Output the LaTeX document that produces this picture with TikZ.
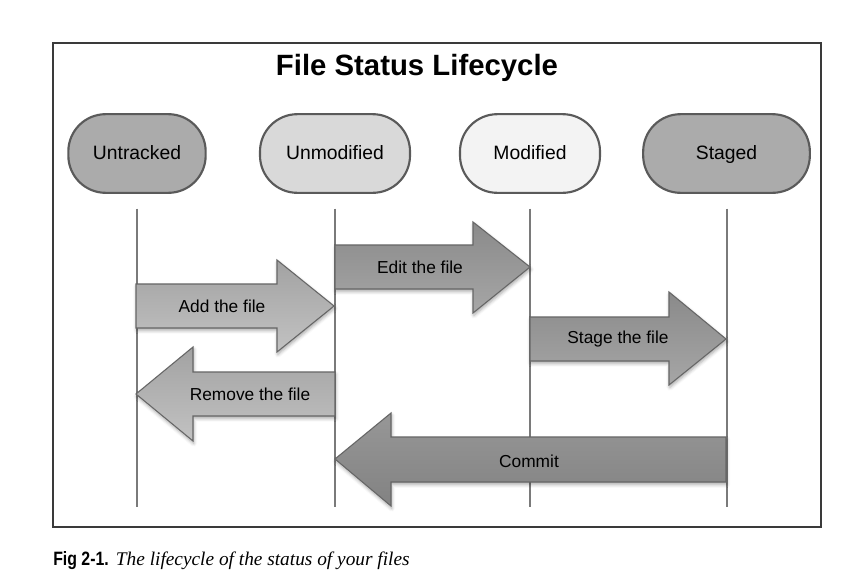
\documentclass[tikz,border=0pt]{standalone}
\usepackage{fontspec}
\setmainfont{Liberation Sans}
\newfontfamily\capserif{Liberation Serif}
\newfontfamily\capsans[FakeStretch=0.82]{Liberation Sans}
\usepackage{tikz}
\usepackage{xcolor}
\usetikzlibrary{shapes, positioning, shadows.blur}

\definecolor{edgegray}{HTML}{5A5A5A}
\definecolor{linegray}{HTML}{7A7A7A}
\definecolor{arrowedge}{HTML}{666666}
\definecolor{framegray}{HTML}{3A3A3A}
\definecolor{darkfill}{HTML}{ABABAB}
\definecolor{midfill}{HTML}{D9D9D9}
\definecolor{lightfill}{HTML}{F3F3F3}
\definecolor{addtop}{HTML}{A2A2A2}
\definecolor{addbot}{HTML}{C2C2C2}
\definecolor{edittop}{HTML}{8A8A8A}
\definecolor{editbot}{HTML}{A6A6A6}
\definecolor{committop}{HTML}{979797}
\definecolor{commitbot}{HTML}{828282}

\begin{document}
\begin{tikzpicture}[x=0.75pt, y=-0.75pt,
    state/.style={rectangle, rounded corners=28pt, draw=edgegray, line width=1.6pt, minimum height=59pt, text height=2.2ex, text depth=0.4ex, font=\fontsize{14.5}{17}\selectfont},
    lifeline/.style={draw=linegray, line width=1.5pt},
    blockarrow/.style={draw=arrowedge, line width=0.8pt, line join=miter, blur shadow={shadow xshift=0.6pt, shadow yshift=-1.8pt, shadow blur radius=2.5pt, shadow opacity=35}},
    arrowlabel/.style={font=\fontsize{13}{15}\selectfont}]

    \useasboundingbox (0,0) rectangle (855,582);
    \draw[framegray, line width=1pt] (53,43) rectangle (821,527);

    \node[font=\bfseries\fontsize{22}{26}\selectfont] (title) at (417,68) {File Status Lifecycle};

    % the four states
    \node[state, fill=darkfill, minimum width=103pt] (untracked) at (137,153.5) {Untracked};
    \node[state, fill=midfill, minimum width=112.5pt] (unmodified) at (335,153.5) {Unmodified};
    \node[state, fill=lightfill, minimum width=105pt] (modified) at (530,153.5) {Modified};
    \node[state, fill=darkfill, minimum width=125pt] (staged) at (726.5,153.5) {Staged};

    % lifelines
    \draw[lifeline] ([yshift=-11pt]untracked.south) -- ++(0,298);
    \draw[lifeline] ([yshift=-11pt]unmodified.south) -- ++(0,298);
    \draw[lifeline] ([yshift=-11pt]modified.south) -- ++(0,298);
    \draw[lifeline] ([yshift=-11pt]staged.south) -- ++(0,298);

    % transitions
    \draw[blockarrow, top color=addtop, bottom color=addbot] (136,284) -- (277,284) -- (277,260) -- (334,306) -- (277,352) -- (277,328) -- (136,328) -- cycle;
    \node[arrowlabel] (add) at (222,306) {Add the file};

    \draw[blockarrow, top color=edittop, bottom color=editbot] (335,245) -- (473,245) -- (473,222) -- (530,267) -- (473,313) -- (473,289) -- (335,289) -- cycle;
    \node[arrowlabel] (edit) at (420,267) {Edit the file};

    \draw[blockarrow, top color=edittop, bottom color=editbot] (530,317) -- (669,317) -- (669,292) -- (726,339) -- (669,385) -- (669,361) -- (530,361) -- cycle;
    \node[arrowlabel] (stage) at (618,339) {Stage the file};

    \draw[blockarrow, top color=addtop, bottom color=addbot] (335,372) -- (193,372) -- (193,347) -- (136,394) -- (193,441) -- (193,416) -- (335,416) -- cycle;
    \node[arrowlabel] (remove) at (250,394) {Remove the file};

    \draw[blockarrow, top color=committop, bottom color=commitbot] (726,437) -- (391,437) -- (391,413) -- (335,459) -- (391,506) -- (391,482) -- (726,482) -- cycle;
    \node[arrowlabel] (commit) at (529,461) {Commit};

    \node[anchor=base west, inner sep=0pt, font=\fontsize{14.5}{17}\selectfont] (caption) at (53,565) {{\capsans\bfseries Fig 2-1.} {\capserif\itshape The lifecycle of the status of your files}};
\end{tikzpicture}
\end{document}
